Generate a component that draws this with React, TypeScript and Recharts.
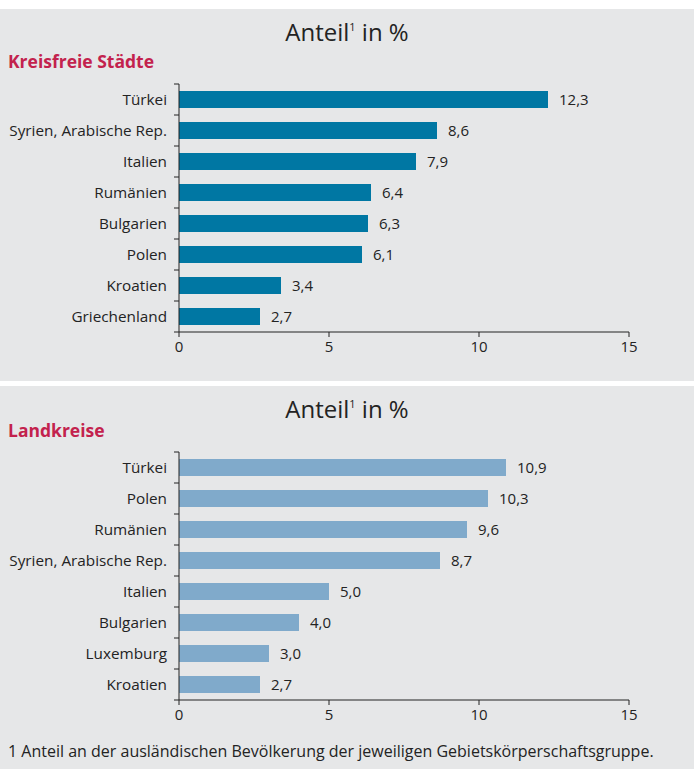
import React from 'react';
import { Bar, BarChart, LabelList, XAxis, YAxis } from 'recharts';

const citiesNames = ['Türkei', 'Syrien, Arabische Rep.', 'Italien', 'Rumänien', 'Bulgarien', 'Polen', 'Kroatien', 'Griechenland'];
const citiesValues = [12.3, 8.6, 7.9, 6.4, 6.3, 6.1, 3.4, 2.7];

const districtNames = ['Türkei', 'Polen', 'Rumänien', 'Syrien, Arabische Rep.', 'Italien', 'Bulgarien', 'Luxemburg', 'Kroatien'];
const districtValues = [10.9, 10.3, 9.6, 8.7, 5.0, 4.0, 3.0, 2.7];

const xTicks = [0, 5, 10, 15];

const FONT = '"Open Sans", "Noto Sans", sans-serif';
const TEXT = '#232323';
const BAND = 31;

const YTick = (props: any) => {
  const { x, y, payload, index, count } = props;
  return (
    <g>
      <text x={x - 12} y={y} dy="0.35em" textAnchor="end" fontSize={15.3} fill={TEXT} fontFamily={FONT}>
        {payload.value}
      </text>
      <line x1={x - 5} x2={x} y1={y - BAND / 2} y2={y - BAND / 2} stroke={TEXT} strokeWidth={1} />
      {index === count - 1 && (
        <line x1={x - 5} x2={x} y1={y + BAND / 2} y2={y + BAND / 2} stroke={TEXT} strokeWidth={1} />
      )}
    </g>
  );
};

const fmt = (v: any) => Number(v).toFixed(1).replace('.', ',');

interface PanelProps {
  names: string[];
  values: number[];
  color: string;
  label: string;
  top: number;
  height: number;
  titleTop: number;
  labelTop: number;
  plotTop: number;
}

const Panel = ({ names, values, color, label, top, height, titleTop, labelTop, plotTop }: PanelProps) => {
  const data = names.map((name, i) => ({ name, value: values[i] }));
  const plotHeight = names.length * BAND;
  const xAxisHeight = 30;
  return (
    <div style={{ position: 'absolute', left: 0, top, width: 694, height, background: '#e6e7e8' }}>
      <div style={{ position: 'absolute', top: titleTop, width: '100%', textAlign: 'center', fontSize: 24, color: TEXT, fontFamily: FONT, lineHeight: '30px' }}>
        Anteil<span style={{ fontSize: 11, position: 'relative', top: -10 }}>1</span> in %
      </div>
      <div style={{ position: 'absolute', top: labelTop, left: 8, fontSize: 17.5, fontWeight: 700, color: '#c3224d', fontFamily: FONT, lineHeight: '22px' }}>
        {label}
      </div>
      <div style={{ position: 'absolute', top: 0, left: 0 }}>
        <BarChart
          width={694}
          height={plotTop + plotHeight + xAxisHeight + 5}
          data={data}
          layout="vertical"
          margin={{ top: plotTop, right: 65, left: 0, bottom: 5 }}
          barSize={17}
        >
          <XAxis
            type="number"
            domain={[0, 15]}
            ticks={xTicks}
            height={xAxisHeight}
            tick={{ fontSize: 15, fill: TEXT, fontFamily: FONT }}
            stroke={TEXT}
            tickSize={5}
            tickMargin={4}
          />
          <YAxis
            type="category"
            dataKey="name"
            width={179}
            tick={<YTick count={names.length} />}
            tickLine={false}
            tickSize={0}
            tickMargin={0}
            stroke={TEXT}
            interval={0}
          />
          <Bar dataKey="value" fill={color} isAnimationActive={false}>
            <LabelList dataKey="value" position="right" offset={11} formatter={fmt} style={{ fontSize: 15, fill: TEXT, fontFamily: FONT }} />
          </Bar>
        </BarChart>
      </div>
    </div>
  );
};

const App = () => {
  return (
    <div style={{ position: 'absolute', left: 0, top: 0, width: 694, height: 769, background: '#ffffff', overflow: 'hidden' }}>
      <Panel
        names={citiesNames}
        values={citiesValues}
        color="#0077a3"
        label="Kreisfreie Städte"
        top={9}
        height={372}
        titleTop={8}
        labelTop={41}
        plotTop={75}
      />
      <Panel
        names={districtNames}
        values={districtValues}
        color="#80aacb"
        label="Landkreise"
        top={386}
        height={383}
        titleTop={8}
        labelTop={33}
        plotTop={66}
      />
      <div style={{ position: 'absolute', left: 8, top: 741, fontSize: 16, color: TEXT, fontFamily: FONT, lineHeight: '21px', whiteSpace: 'nowrap' }}>
        1 Anteil an der ausländischen Bevölkerung der jeweiligen Gebietskörperschaftsgruppe.
      </div>
    </div>
  );
};

export default App;
